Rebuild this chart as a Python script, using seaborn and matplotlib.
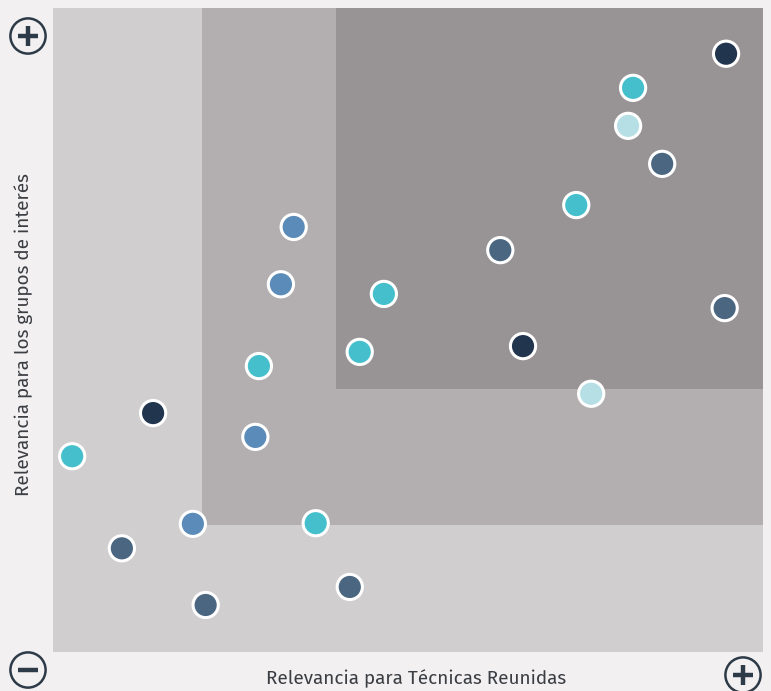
import matplotlib
matplotlib.use("Agg")
import matplotlib.pyplot as plt
from matplotlib.patches import Rectangle, Circle
import seaborn as sns
import pandas as pd

# Relevance scores (0-100) for each topic on both axes
relevancia_tecnicas = [94.8, 81.7, 81.0, 85.8, 73.7, 63.0, 94.6, 66.2, 75.8, 46.6, 43.2,
                       33.9, 32.1, 29.0, 28.5, 14.1, 2.7, 19.7, 37.0, 9.7, 21.5, 41.8]
relevancia_grupos = [92.9, 87.6, 81.7, 75.8, 69.4, 62.4, 53.4, 47.5, 40.1, 55.6, 46.6,
                     66.0, 57.1, 44.4, 33.4, 37.1, 30.4, 19.9, 20.0, 16.1, 7.3, 10.1]
categoria = ["A", "B", "C", "D", "B", "D", "D", "A", "C", "B", "B",
             "E", "E", "B", "E", "A", "B", "E", "B", "D", "D", "D"]

palette = {"A": "#22354f", "B": "#45bfcc", "C": "#b5dfe5", "D": "#4a6680", "E": "#5b8bb8"}

df = pd.DataFrame({"x": relevancia_tecnicas, "y": relevancia_grupos, "cat": categoria})

sns.set_theme(style="white")
plt.rcParams["font.family"] = ["Fira Sans", "Open Sans", "DejaVu Sans"]

W, H = 771, 691
fig = plt.figure(figsize=(W / 100, H / 100), dpi=100, facecolor="#f2f0f1")
ax = fig.add_axes([53 / W, (H - 652) / H, 710 / W, 644 / H])
ax.set_xlim(0, 100)
ax.set_ylim(0, 100)

# Nested relevance zones
ax.add_patch(Rectangle((0, 0), 100, 100, facecolor="#d0cecf", edgecolor="none", zorder=0))
ax.add_patch(Rectangle((21.0, 19.7), 79.0, 80.3, facecolor="#b3afb0", edgecolor="none", zorder=0))
ax.add_patch(Rectangle((39.9, 40.8), 60.1, 59.2, facecolor="#989394", edgecolor="none", zorder=0))

sns.scatterplot(data=df, x="x", y="y", hue="cat", palette=palette, s=330,
                edgecolor="white", linewidth=2.2, legend=False, ax=ax, zorder=3)

ax.set_xticks([])
ax.set_yticks([])
for sp in ax.spines.values():
    sp.set_visible(False)
ax.set_xlabel("")
ax.set_ylabel("")

fig.text(416 / W, 1 - 679 / H, "Relevancia para Técnicas Reunidas", ha="center", va="center",
         fontsize=13.6, color="#3a3d42")
fig.text(24 / W, 1 - 335 / H, "Relevancia para los grupos de interés", ha="center", va="center",
         rotation=90, fontsize=13.6, color="#3a3d42")


def icon(cx, cy, plus):
    r = 22
    iax = fig.add_axes([(cx - r) / W, 1 - (cy + r) / H, 2 * r / W, 2 * r / H])
    iax.set_xlim(-1, 1)
    iax.set_ylim(-1, 1)
    iax.set_aspect("equal")
    iax.axis("off")
    iax.patch.set_alpha(0)
    col = "#2d3a48"
    iax.add_patch(Circle((0, 0), 0.8, fill=False, edgecolor=col, linewidth=1.8))
    iax.plot([-0.46, 0.46], [0, 0], color=col, linewidth=3.2, solid_capstyle="butt")
    if plus:
        iax.plot([0, 0], [-0.46, 0.46], color=col, linewidth=3.2, solid_capstyle="butt")


icon(28, 36, True)
icon(28, 670, False)
icon(743, 675, True)

fig.savefig("out.png", dpi=100, facecolor=fig.get_facecolor())
